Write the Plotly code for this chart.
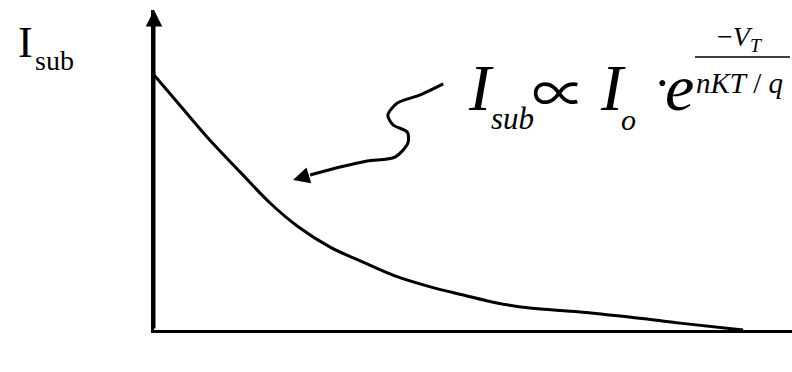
import plotly.graph_objects as go

# ---- data (arbitrary units) ----
vt_values = [0.0, 0.032, 0.090, 0.146, 0.197, 0.243, 0.299, 0.350, 0.409,
             0.469, 0.525, 0.582, 0.638, 0.723, 0.837, 0.893, 1.0]
isub_values = [1.0, 0.914, 0.757, 0.620, 0.498, 0.408, 0.325, 0.271, 0.212,
               0.169, 0.137, 0.106, 0.086, 0.071, 0.043, 0.027, 0.0]

# hand-drawn pointer (squiggle) in the same units
squiggle_x = [0.491, 0.452, 0.413, 0.397, 0.406, 0.430, 0.431, 0.409, 0.362,
              0.316, 0.265]
squiggle_y = [0.965, 0.922, 0.890, 0.843, 0.804, 0.776, 0.733, 0.678, 0.663,
              0.639, 0.608]
pointer_tip = (0.236, 0.588)

x_max = 1.083
y_max = 1.255

W, H = 792, 372
L, R, T, B = 154, 0, 10, 42
SERIF = "Liberation Serif"


def paper(px, py):
    """pixel position -> paper coordinates"""
    return (px - L) / (W - L - R), (H - B - py) / (H - T - B)


fig = go.Figure()
fig.add_trace(go.Scatter(x=vt_values, y=isub_values, mode="lines",
                         line=dict(color="black", width=3, shape="spline", smoothing=1.0),
                         hoverinfo="skip", showlegend=False, cliponaxis=False))
fig.add_trace(go.Scatter(x=squiggle_x, y=squiggle_y, mode="lines",
                         line=dict(color="black", width=3, shape="spline", smoothing=0.8),
                         hoverinfo="skip", showlegend=False))

annotations = []
# y-axis arrow head
annotations.append(dict(x=0, y=y_max, ax=0, ay=0, xref="x", yref="y", axref="x", ayref="y",
                        showarrow=True, arrowhead=2, arrowsize=1.1, arrowwidth=3,
                        arrowcolor="black", text=""))
# squiggle arrow head
annotations.append(dict(x=pointer_tip[0], y=pointer_tip[1], ax=squiggle_x[-1], ay=squiggle_y[-1],
                        xref="x", yref="y", axref="x", ayref="y",
                        showarrow=True, arrowhead=2, arrowsize=1.1, arrowwidth=3,
                        arrowcolor="black", text=""))


def txt(text, px, py, size, xanchor="left", yanchor="bottom", family=SERIF):
    x, y = paper(px, py)
    annotations.append(dict(x=x, y=y, xref="paper", yref="paper", text=text,
                            showarrow=False, xanchor=xanchor, yanchor=yanchor,
                            font=dict(family=family, size=size, color="black")))


# axis label
txt("I", 16, 69, 44)
txt("sub", 33, 78, 28)

# formula pieces
txt("<i>I</i>", 466, 126, 66)
txt("<i>sub</i>", 489, 138, 31)
txt("∝", 559, 132, 54, xanchor="center", family="Noto Sans CJK JP")
txt("<i>I</i>", 598, 126, 66)
txt("<i>o</i>", 619, 138, 30)
txt("·", 652, 113, 50)
txt("<i>e</i>", 663, 126, 66)
txt("−<i>V</i><sub><i>T</i></sub>", 740, 58, 28, xanchor="center")
txt("<i>nKT</i> / <i>q</i>", 739, 101, 29, xanchor="center")

fig.update_layout(
    width=W, height=H,
    margin=dict(l=L, r=R, t=T, b=B, pad=0),
    paper_bgcolor="white", plot_bgcolor="white",
    showlegend=False,
    annotations=annotations,
    shapes=[dict(type="line", xref="paper", yref="paper",
                 x0=paper(695, 0)[0], x1=paper(790, 0)[0],
                 y0=paper(0, 57)[1], y1=paper(0, 57)[1],
                 line=dict(color="black", width=1.5))],
    xaxis=dict(range=[0, x_max], showgrid=False, zeroline=False, showticklabels=False,
               ticks="", showline=True, linecolor="black", linewidth=3, fixedrange=True),
    yaxis=dict(range=[0, y_max], showgrid=False, zeroline=False, showticklabels=False,
               ticks="", showline=True, linecolor="black", linewidth=3, fixedrange=True),
)

fig.write_html("out.html", config={"displayModeBar": False},
               post_script="document.body.style.margin='0';")
